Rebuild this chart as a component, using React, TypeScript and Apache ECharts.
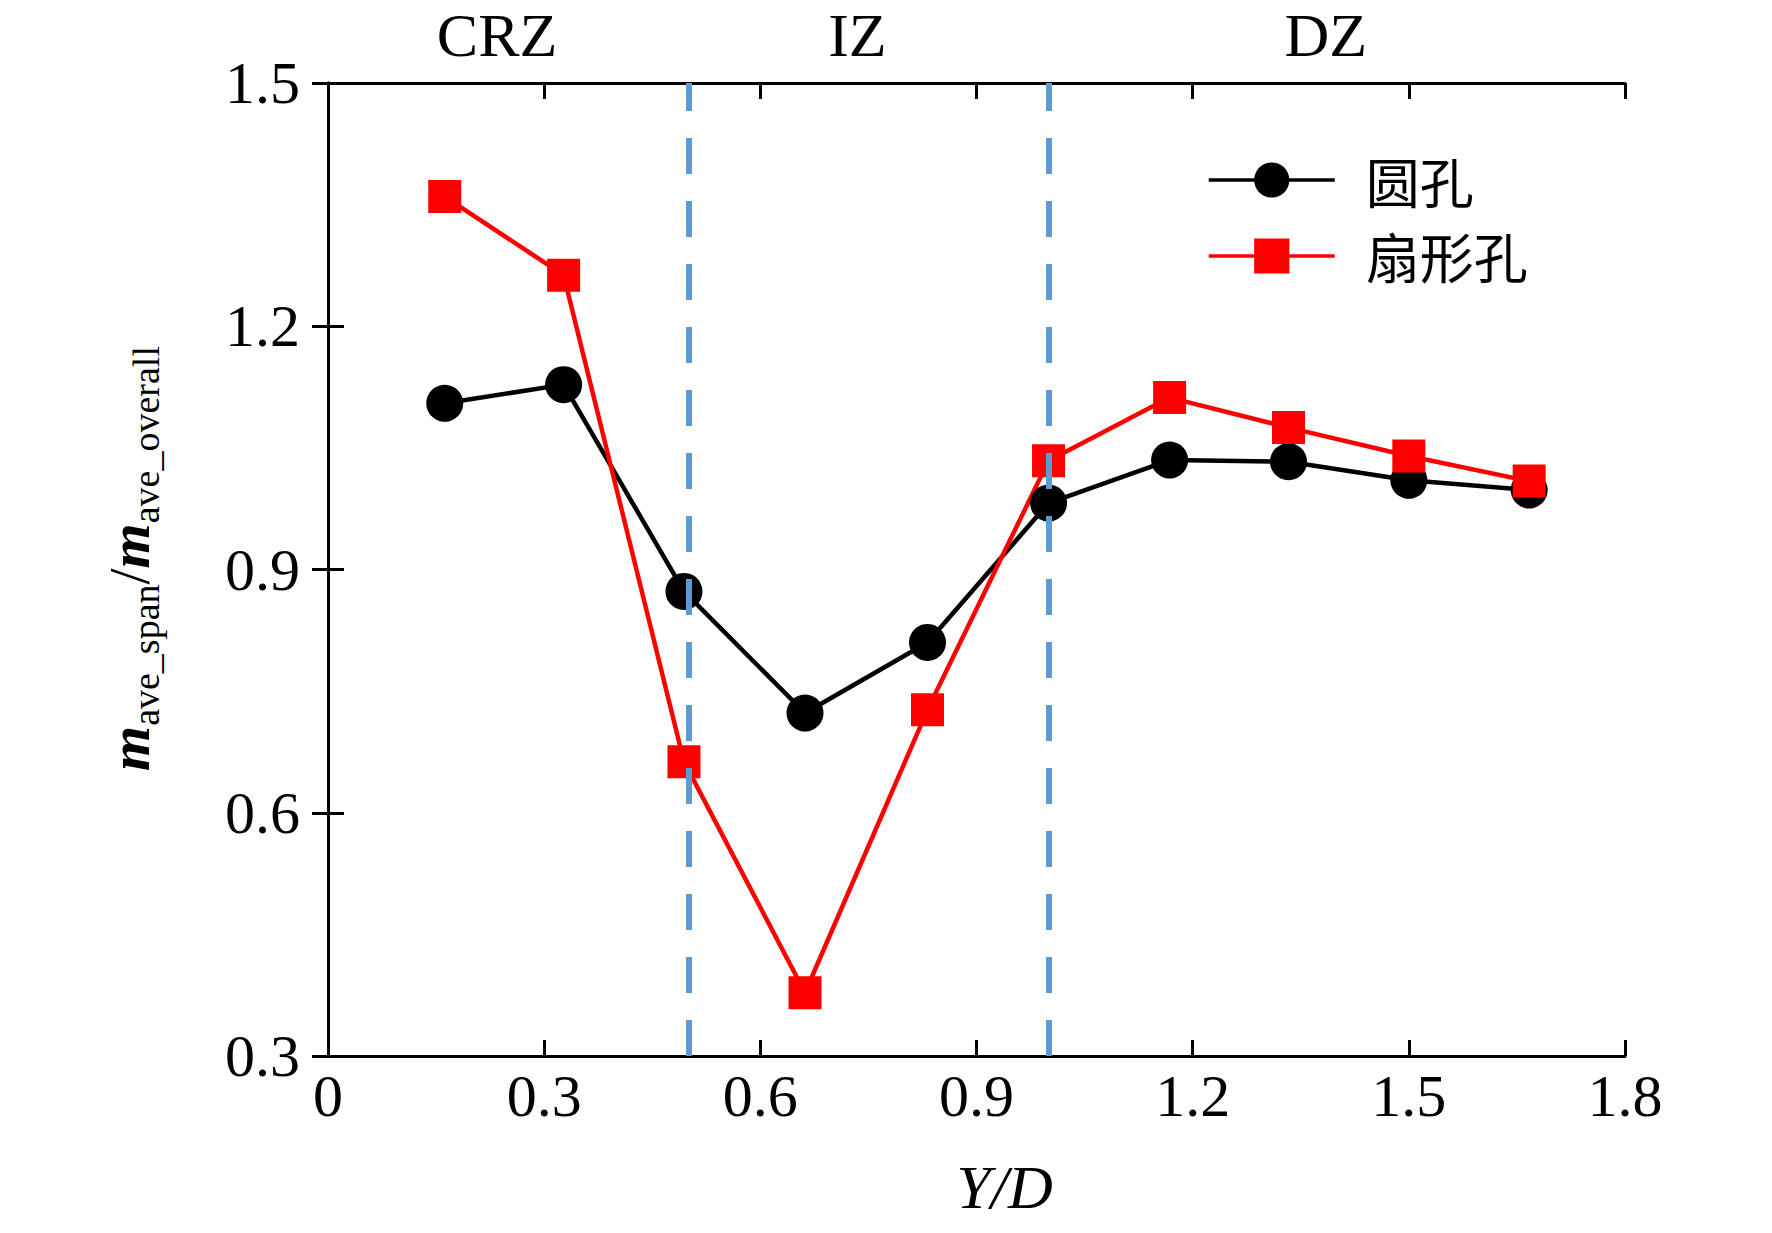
import { useEffect, useRef } from "react";
import * as echarts from "echarts";

// Y/D positions of the measuring stations
const xValues = [0.162, 0.327, 0.494, 0.662, 0.832, 1.0, 1.168, 1.333, 1.5, 1.667];
// m_ave_span / m_ave_overall
const roundHole = [1.105, 1.128, 0.873, 0.723, 0.81, 0.982, 1.035, 1.033, 1.01, 0.998];
const fanHole = [1.36, 1.263, 0.663, 0.378, 0.727, 1.034, 1.112, 1.075, 1.04, 1.009];

const seriesNames = ["圆孔", "扇形孔"];
const zoneNames = ["CRZ", "IZ", "DZ"];
const zoneEdges = [0, 0.5, 1.0, 1.8];
const xTickLabels = ["0", "0.3", "0.6", "0.9", "1.2", "1.5", "1.8"];
const yTickLabels = ["0.3", "0.6", "0.9", "1.2", "1.5"];

const SERIF = "'Liberation Serif', 'Times New Roman', serif";
const CJK = "'Noto Sans CJK SC', sans-serif";

export default function App() {
  const ref = useRef<HTMLDivElement | null>(null);

  useEffect(() => {
    if (!ref.current) return;
    const chart = echarts.init(ref.current, undefined, { renderer: "svg" });

    const pairs = (ys: number[]) => xValues.map((x, i) => [x, ys[i]]);

    const axisLine = { show: true, lineStyle: { color: "#000", width: 3 } };
    const tick = { show: true, inside: true, length: 16, lineStyle: { color: "#000", width: 3 } };
    const tickLabel = { color: "#000", fontSize: 60, fontFamily: SERIF };

    const mStyle = {
      fontSize: 58,
      lineHeight: 58,
      fontStyle: "italic" as const,
      fontWeight: "bold" as const,
      fontFamily: SERIF,
      color: "#000",
      verticalAlign: "top" as const,
    };

    const option: echarts.EChartsOption = {
      animation: false,
      backgroundColor: "#fff",
      grid: { left: 328, right: 147, top: 83, bottom: 177 },
      legend: {
        orient: "vertical",
        left: 1202,
        top: 148,
        itemWidth: 126,
        itemHeight: 44,
        itemGap: 22,
        data: seriesNames,
        lineStyle: { width: 3.5 },
        textStyle: { color: "#000", fontSize: 54, fontFamily: CJK, padding: [0, 0, 0, 26] },
      },
      xAxis: [
        {
          type: "value",
          min: 0,
          max: 1.8,
          interval: 0.3,
          position: "bottom",
          name: "Y/D",
          nameLocation: "middle",
          nameGap: 100,
          nameTextStyle: {
            color: "#000",
            fontSize: 62,
            fontStyle: "italic",
            fontFamily: SERIF,
            padding: [0, 0, 0, 56],
          },
          axisLine,
          axisTick: tick,
          splitLine: { show: false },
          axisLabel: {
            ...tickLabel,
            margin: 10,
            formatter: (v: number) => xTickLabels[Math.round(v / 0.3)],
          },
        },
        {
          type: "value",
          min: 0,
          max: 1.8,
          interval: 0.3,
          position: "top",
          axisLine,
          axisTick: tick,
          splitLine: { show: false },
          axisLabel: { show: false },
        },
      ],
      yAxis: [
        {
          type: "value",
          min: 0.3,
          max: 1.5,
          interval: 0.3,
          position: "left",
          name: "{m0|m}{s|ave_span}{sl|/}{m|m}{s|ave_overall}",
          nameLocation: "middle",
          nameRotate: 90,
          nameGap: 170,
          nameTextStyle: {
            color: "#000",
            fontFamily: SERIF,
            rich: {
              m0: { ...mStyle, padding: [0, 0, 0, 22] },
              m: mStyle,
              sl: {
                fontSize: 58,
                lineHeight: 58,
                fontFamily: SERIF,
                color: "#000",
                verticalAlign: "top",
              },
              s: {
                fontSize: 38,
                lineHeight: 38,
                fontFamily: SERIF,
                color: "#000",
                verticalAlign: "top",
                padding: [27, 0, 0, 0],
              },
            },
          },
          axisLine,
          axisTick: tick,
          splitLine: { show: false },
          axisLabel: {
            ...tickLabel,
            margin: 28,
            formatter: (v: number) => yTickLabels[Math.round((v - 0.3) / 0.3)],
          },
        },
        {
          type: "value",
          min: 0.3,
          max: 1.5,
          interval: 0.3,
          position: "right",
          axisLine,
          axisTick: tick,
          splitLine: { show: false },
          axisLabel: { show: false },
        },
      ],
      series: [
        {
          name: seriesNames[0],
          type: "line",
          symbol: "circle",
          symbolSize: 37,
          color: "#000",
          lineStyle: { color: "#000", width: 4.5 },
          itemStyle: { color: "#000" },
          data: pairs(roundHole),
        },
        {
          name: seriesNames[1],
          type: "line",
          symbol: "rect",
          symbolSize: 33,
          color: "#ff0000",
          lineStyle: { color: "#ff0000", width: 4.5 },
          itemStyle: { color: "#ff0000" },
          data: pairs(fanHole),
        },
        {
          name: "zones",
          type: "line",
          data: [],
          silent: true,
          markArea: {
            silent: true,
            itemStyle: { color: "rgba(0,0,0,0)" },
            label: {
              show: true,
              position: "top",
              distance: 17,
              offset: [-11, 0],
              color: "#000",
              fontSize: 62,
              fontFamily: SERIF,
            },
            data: zoneNames.map((name, i) => [
              { name, xAxis: zoneEdges[i] },
              { xAxis: zoneEdges[i + 1] },
            ]) as any,
          },
          markLine: {
            silent: true,
            symbol: ["none", "none"],
            label: { show: false },
            lineStyle: { color: "#5B9BD5", width: 6, type: [36, 27] },
            data: zoneEdges.slice(1, -1).map((x) => ({ xAxis: x })),
          },
        },
      ],
    };

    chart.setOption(option);
    return () => chart.dispose();
  }, []);

  return (
    <div
      ref={ref}
      style={{ position: "fixed", left: 0, top: 0, width: 1772, height: 1233 }}
    />
  );
}
